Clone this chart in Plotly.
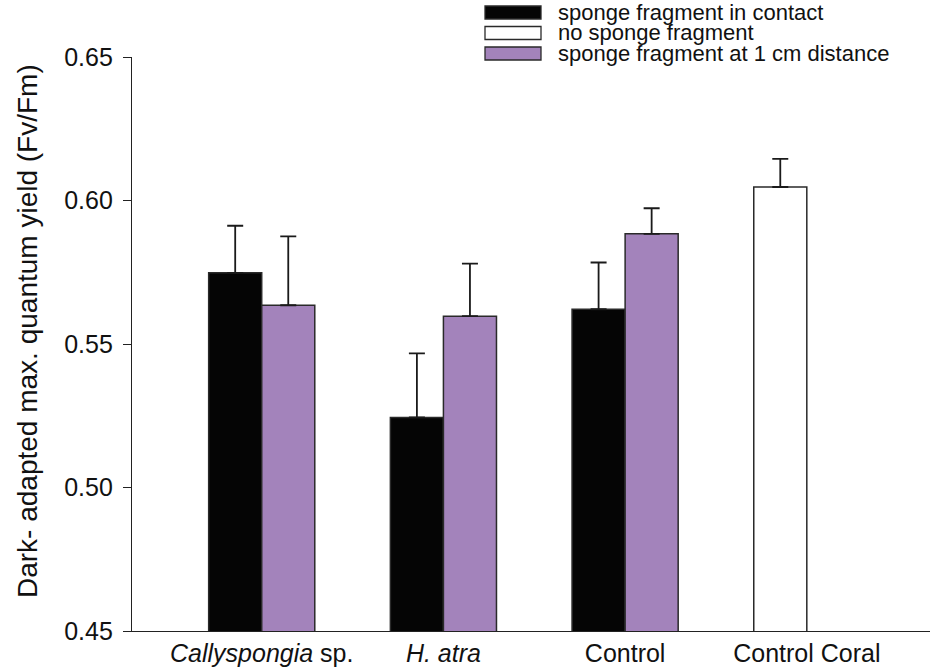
import plotly.graph_objects as go

# Group labels on the x axis
categories = ["<i>Callyspongia</i> sp.", "<i>H. atra</i>", "Control", "Control Coral"]

# Dark-adapted max. quantum yield (Fv/Fm), mean and upper SE
contact_mean = [0.5748, 0.5244, 0.5621, None]
contact_err = [0.0164, 0.0223, 0.0163, 0]
distance_mean = [0.5635, 0.5597, 0.5884, None]
distance_err = [0.0240, 0.0183, 0.0089, 0]
nosponge_mean = [None, None, None, 0.6047]
nosponge_err = [0, 0, 0, 0.0098]

series_names = ["sponge fragment in contact", "no sponge fragment",
                "sponge fragment at 1 cm distance"]
series_colors = ["#050505", "#ffffff", "#a383bb"]

W, H = 933, 671
L, R, T, B = 132, 3, 57, 40
PW, PH = W - L - R, H - T - B
BAR_W = 0.292

x_idx = list(range(len(categories)))

fig = go.Figure()


def add_bars(means, errs, color, offset):
    fig.add_trace(go.Bar(
        x=x_idx, y=means, width=BAR_W, offset=offset,
        marker=dict(color=color, line=dict(color="#2a2a2a", width=1.5)),
        error_y=dict(type="data", symmetric=False, array=errs,
                     arrayminus=[0] * len(errs), color="#1a1a1a",
                     thickness=1.8, width=8),
        showlegend=False, hoverinfo="y",
    ))


add_bars(contact_mean, contact_err, series_colors[0], -BAR_W)
add_bars(distance_mean, distance_err, series_colors[2], 0)
add_bars(nosponge_mean, nosponge_err, series_colors[1], -BAR_W)

fig.update_layout(
    width=W, height=H, barmode="overlay",
    margin=dict(l=L, r=R, t=T, b=B, pad=0),
    paper_bgcolor="white", plot_bgcolor="white",
    font=dict(family="Liberation Sans, Arial, sans-serif", color="#111111"),
    xaxis=dict(
        range=[-0.714, 3.678], tickvals=x_idx, ticktext=categories,
        showline=True, linecolor="#222222", linewidth=1.3,
        ticks="", showgrid=False, zeroline=False,
        tickfont=dict(size=25), fixedrange=True,
    ),
    yaxis=dict(
        range=[0.45, 0.65], tickvals=[0.45, 0.50, 0.55, 0.60, 0.65],
        ticktext=["0.45", "0.50", "0.55", "0.60", "0.65"],
        showline=True, linecolor="#222222", linewidth=1.3,
        ticks="outside", ticklen=8, tickwidth=1.3, tickcolor="#222222",
        ticklabelstandoff=5,
        showgrid=False, zeroline=False, tickfont=dict(size=25),
        fixedrange=True,
    ),
)

# Y axis title
fig.add_annotation(
    text="Dark- adapted max. quantum yield (Fv/Fm)",
    xref="paper", yref="paper", x=(27 - L) / PW, y=(H - B - 331) / PH,
    textangle=-90, showarrow=False, font=dict(size=28),
    xanchor="center", yanchor="middle",
)


# Legend drawn as swatches with labels in the top-right corner
def px_x(px):
    return (px - L) / PW


def px_y(py):
    return (H - B - py) / PH


row_centers = [12.5, 33, 53.5]
for name, color, yc in zip(series_names, series_colors, row_centers):
    fig.add_shape(
        type="rect", xref="paper", yref="paper",
        x0=px_x(485), x1=px_x(541), y0=px_y(yc + 6.5), y1=px_y(yc - 6.5),
        fillcolor=color, line=dict(color="#2a2a2a", width=1.3),
    )
    fig.add_annotation(
        text=name, xref="paper", yref="paper", x=px_x(556), y=px_y(yc),
        xanchor="left", yanchor="middle", showarrow=False,
        font=dict(size=22),
    )

fig.write_html("out.html")
